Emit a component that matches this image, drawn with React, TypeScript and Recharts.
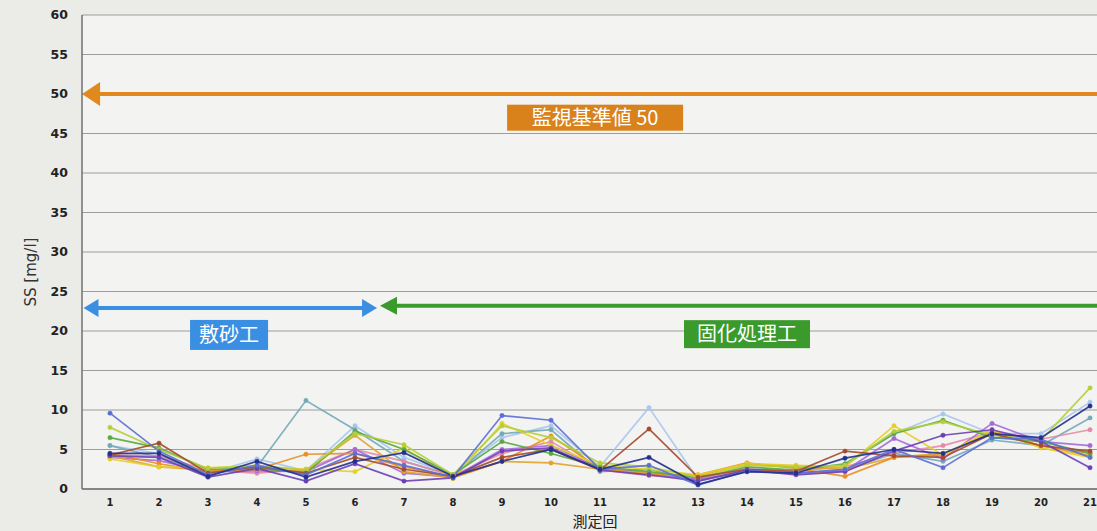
import React from 'react';
import { LineChart, Line, XAxis, YAxis, CartesianGrid, ReferenceLine, ReferenceDot } from 'recharts';

// 測定回 1..21
const ROUNDS = [1, 2, 3, 4, 5, 6, 7, 8, 9, 10, 11, 12, 13, 14, 15, 16, 17, 18, 19, 20, 21];
const Y_TICKS = [0, 5, 10, 15, 20, 25, 30, 35, 40, 45, 50, 55, 60];

const S_BLUE = [9.6, 4.8, 1.8, 3.0, 1.8, 4.5, 3.0, 1.5, 9.3, 8.7, 2.5, 3.0, 0.5, 2.3, 2.0, 2.5, 5.0, 2.7, 6.5, 6.3, 4.0];
const S_NAVY = [4.5, 4.5, 1.6, 3.5, 1.5, 3.5, 4.6, 1.6, 3.5, 5.0, 2.5, 4.0, 0.6, 2.2, 2.0, 3.9, 5.0, 4.5, 7.0, 6.5, 10.5];
const S_BROWN = [4.3, 5.8, 2.0, 2.8, 2.0, 4.0, 2.5, 1.6, 4.0, 5.0, 2.4, 7.6, 1.5, 2.5, 2.2, 4.8, 4.2, 4.0, 7.0, 5.5, 4.8];
const S_LIGHTBLUE = [5.5, 4.5, 2.0, 3.8, 2.3, 8.0, 4.0, 1.8, 6.5, 8.0, 2.8, 10.3, 1.2, 2.7, 2.3, 3.0, 7.0, 9.5, 7.0, 7.0, 11.0];
const S_TEAL = [5.5, 4.0, 2.2, 2.8, 11.2, 7.5, 3.5, 1.7, 7.0, 7.5, 2.2, 2.5, 1.0, 2.3, 2.0, 2.4, 4.5, 3.5, 6.2, 5.5, 9.0];
const S_YGREEN = [7.8, 5.0, 2.6, 3.0, 2.4, 7.0, 5.6, 1.8, 8.0, 6.5, 3.3, 2.8, 1.5, 3.0, 2.8, 3.0, 7.3, 8.5, 6.8, 6.2, 12.8];
const S_GREEN = [6.5, 5.2, 2.5, 2.6, 2.0, 7.3, 5.0, 1.8, 6.0, 4.5, 2.8, 2.2, 1.4, 2.8, 2.4, 3.2, 7.0, 8.7, 6.5, 6.0, 4.5];
const S_YELLOW = [3.8, 2.8, 2.7, 2.8, 2.5, 2.2, 5.2, 1.3, 8.3, 5.5, 3.0, 2.5, 1.8, 3.2, 3.0, 2.8, 8.0, 4.3, 7.5, 5.2, 4.0];
const S_ORANGE = [4.5, 3.2, 2.2, 2.5, 4.4, 4.5, 2.8, 1.5, 3.5, 6.7, 2.6, 1.8, 1.8, 3.3, 2.6, 1.6, 4.0, 4.3, 7.2, 5.5, 4.5];
const S_PURPLE = [4.2, 4.0, 1.5, 2.6, 1.0, 3.2, 1.0, 1.4, 4.8, 5.2, 2.4, 1.8, 1.0, 2.4, 1.8, 2.2, 4.8, 6.8, 7.5, 6.0, 2.7];
const S_VIOLET = [4.0, 3.6, 2.2, 2.3, 2.2, 5.0, 2.0, 1.5, 5.0, 5.5, 2.6, 2.0, 1.2, 2.2, 2.0, 2.3, 6.4, 3.8, 8.3, 6.0, 5.5];
const S_PINK = [4.3, 4.2, 2.4, 2.0, 2.5, 5.0, 3.5, 1.7, 4.5, 6.0, 2.4, 1.7, 1.3, 2.5, 2.3, 2.8, 4.5, 5.5, 7.2, 6.3, 7.5];
const S_GOLD = [4.2, 2.8, 2.4, 2.5, 2.3, 6.8, 2.2, 1.4, 3.5, 3.3, 2.5, 2.0, 1.7, 3.2, 2.8, 2.5, 4.0, 4.5, 7.0, 5.5, 4.2];

const SERIES = [
  { key: 'lightblue', color: '#a9c6ee', values: S_LIGHTBLUE },
  { key: 'teal', color: '#74aab8', values: S_TEAL },
  { key: 'pink', color: '#e48aa8', values: S_PINK },
  { key: 'violet', color: '#a56ad8', values: S_VIOLET },
  { key: 'gold', color: '#e0a42c', values: S_GOLD },
  { key: 'orange', color: '#e88f22', values: S_ORANGE },
  { key: 'yellow', color: '#e6cf27', values: S_YELLOW },
  { key: 'green', color: '#5aa843', values: S_GREEN },
  { key: 'ygreen', color: '#b5cf3a', values: S_YGREEN },
  { key: 'brown', color: '#a44a30', values: S_BROWN },
  { key: 'purple', color: '#6b3fb5', values: S_PURPLE },
  { key: 'blue', color: '#5a6fd6', values: S_BLUE },
  { key: 'navy', color: '#23308e', values: S_NAVY },
];

const data = ROUNDS.map((n, i) => {
  const row: Record<string, number> = { n };
  SERIES.forEach((s) => (row[s.key] = s.values[i]));
  return row;
});

const FONT = '"DejaVu Sans", Verdana, sans-serif';
const JP = '"Noto Sans CJK JP", "Noto Sans", sans-serif';

// line with arrow heads, drawn from the reference line's own end points
const arrow = (color: string, left: boolean, right: boolean, len: number, half: number) => (p: any) => {
  const { x1, y1, x2, y2 } = p;
  const xa = Math.min(x1, x2);
  const xb = Math.max(x1, x2);
  const y = y1;
  return (
    <g>
      <line x1={left ? xa + len - 2 : xa} y1={y} x2={right ? xb - len + 2 : xb} y2={y2} stroke={color} strokeWidth={4} />
      {left && <polygon points={`${xa},${y} ${xa + len},${y - half} ${xa + len},${y + half}`} fill={color} />}
      {right && <polygon points={`${xb},${y} ${xb - len},${y - half} ${xb - len},${y + half}`} fill={color} />}
    </g>
  );
};

const tag = (text: string, color: string, w: number, h: number) => (p: any) => {
  const { cx, cy } = p;
  return (
    <g>
      <rect x={cx - w / 2} y={cy - h / 2} width={w} height={h} fill={color} />
      <text x={cx} y={cy + 7} textAnchor="middle" fill="#fff" fontSize={20} fontFamily={JP}>
        {text}
      </text>
    </g>
  );
};

const YTitle = (props: any) => {
  const { viewBox } = props;
  const x = viewBox.x + 31;
  const y = viewBox.y + viewBox.height / 2 + 20;
  return (
    <text x={x} y={y} transform={`rotate(-90 ${x} ${y})`} textAnchor="middle" dominantBaseline="central" fontSize={15} fontFamily={FONT} fill="#333">
      SS [mg/l]
    </text>
  );
};

export default function App() {
  return (
    <div
      style={{
        position: 'fixed',
        left: 0,
        top: 0,
        width: 1097,
        height: 531,
        overflow: 'hidden',
        background: '#ebebe8',
      }}
    >
      <LineChart width={1118} height={531} data={data} margin={{ top: 15, right: 0, bottom: 0, left: 0 }}>
        <CartesianGrid vertical={false} stroke="#9c9c9a" fill="#f3f3f1" />
        <XAxis
          dataKey="n"
          type="number"
          domain={[0.429, 21.571]}
          ticks={ROUNDS}
          allowDataOverflow
          height={42}
          tickLine={false}
          tickSize={0}
          tickMargin={10}
          axisLine={{ stroke: '#707070', strokeWidth: 1.5 }}
          tick={{ fontSize: 10, fontWeight: 'bold', fontFamily: FONT, fill: '#222' }}
        />
        <YAxis
          domain={[0, 60]}
          ticks={Y_TICKS}
          width={82}
          tickLine={false}
          tickSize={0}
          tickMargin={14}
          axisLine={{ stroke: '#707070', strokeWidth: 1.5 }}
          tick={{ fontSize: 12.5, fontWeight: 'bold', fontFamily: FONT, fill: '#222' }}
          label={<YTitle />}
        />
        <ReferenceLine
          segment={[{ x: 0.43, y: 50 }, { x: 21.571, y: 50 }]}
          ifOverflow="visible"
          shape={arrow('#e0891e', true, false, 18, 12)}
        />
        <ReferenceLine
          segment={[{ x: 0.46, y: 22.9 }, { x: 6.45, y: 22.9 }]}
          ifOverflow="visible"
          shape={arrow('#3b8fe2', true, true, 15, 9)}
        />
        <ReferenceLine
          segment={[{ x: 6.51, y: 23.2 }, { x: 21.571, y: 23.2 }]}
          ifOverflow="visible"
          shape={arrow('#3a9a2c', true, false, 17, 9)}
        />
        <ReferenceDot x={10.9} y={47.0} ifOverflow="visible" shape={tag('監視基準値 50', '#d9821c', 176, 26)} />
        <ReferenceDot x={3.43} y={19.5} ifOverflow="visible" shape={tag('敷砂工', '#3b8fe2', 78, 30)} />
        <ReferenceDot x={14.0} y={19.6} ifOverflow="visible" shape={tag('固化処理工', '#3a9a2c', 126, 28)} />
        {SERIES.map((s) => (
          <Line
            key={s.key}
            dataKey={s.key}
            stroke={s.color}
            strokeWidth={1.7}
            strokeOpacity={0.9}
            dot={{ r: 2.2, fill: s.color, stroke: s.color, strokeWidth: 0.5 }}
            isAnimationActive={false}
          />
        ))}
      </LineChart>
      <div
        style={{
          position: 'absolute',
          left: 545,
          top: 512,
          width: 100,
          textAlign: 'center',
          fontSize: 15,
          lineHeight: '17px',
          fontFamily: JP,
          color: '#222',
        }}
      >
        測定回
      </div>
    </div>
  );
}
